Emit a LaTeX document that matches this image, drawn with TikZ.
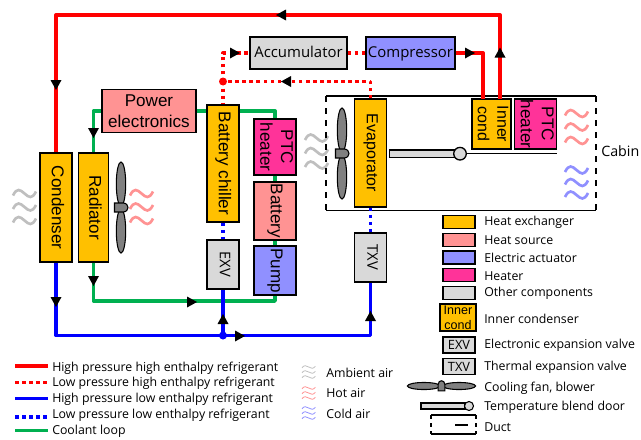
\documentclass[tikz,border=0pt]{standalone}
\usepackage{fontspec}
\setmainfont{Liberation Sans}
\newfontfamily\notefont{Open Sans}
\usepackage{graphicx}
\usepackage{color}

\definecolor{hxorange}{HTML}{FFC000}
\definecolor{sourcepink}{HTML}{FF9393}
\definecolor{actuatorblue}{HTML}{9090FF}
\definecolor{heatermagenta}{HTML}{FF3399}
\definecolor{othergray}{HTML}{D9D9D9}
\definecolor{hpred}{HTML}{FF0000}
\definecolor{lpblue}{HTML}{0000FF}
\definecolor{coolantgreen}{HTML}{00B050}

\tikzset{
    sized/.style 2 args={minimum width=#1*0.75pt, minimum height=#2*0.75pt},
    part/.style={draw=black, line width=1.1pt, inner sep=0pt, align=center, font=\fontsize{12.8}{15.6}\selectfont},
    exchanger/.style={part, fill=hxorange},
    source/.style={part, fill=sourcepink},
    actuator/.style={part, fill=actuatorblue},
    heater/.style={part, fill=heatermagenta},
    other/.style={part, fill=othergray},
    swatch/.style={draw=black, line width=0.9pt, inner sep=0pt, font=\notefont\fontsize{9.6}{11}\selectfont},
    note/.style={anchor=west, inner sep=0pt, font=\notefont\fontsize{9.25}{11}\selectfont},
    hphigh/.style={draw=hpred, line width=2.5pt, line join=round},
    lphigh/.style={hphigh, dash pattern=on 2.7pt off 2.6pt},
    hplow/.style={draw=lpblue, line width=2.5pt, line join=round},
    lplow/.style={hplow, dash pattern=on 2.7pt off 2.6pt},
    coolant/.style={draw=coolantgreen, line width=2.5pt, line join=round},
    ductwall/.style={draw=black, line width=1.1pt},
    ambientair/.style={draw=black!25, line width=2pt},
    hotair/.style={draw=sourcepink, line width=2pt},
    coldair/.style={draw=actuatorblue, line width=2pt},
    smallwave/.style={xscale=0.58, yscale=0.37, line width=0.6pt},
}

\newcommand{\vtext}[1]{\rotatebox{-90}{\begin{tabular}{@{}c@{}}#1\end{tabular}}}
\newcommand{\flowtip}[3]{\fill[black, shift={(#1,#2)}, rotate=#3] (5,0) -- (-5,-5.5) -- (-5,5.5) -- cycle;}
\newcommand{\airwaves}[4]{
    \begin{scope}[shift={(#1,#2)}, #3]
        \draw (0,2) .. controls (4,-6) and (7,-4) .. (11.5,0) .. controls (16,4) and (19,6) .. (23,-2);
        \draw (0,#4+2) .. controls (4,#4-6) and (7,#4-4) .. (11.5,#4) .. controls (16,#4+4) and (19,#4+6) .. (23,#4-2);
        \draw (0,2*#4+2) .. controls (4,2*#4-6) and (7,2*#4-4) .. (11.5,2*#4) .. controls (16,2*#4+4) and (19,2*#4+6) .. (23,2*#4-2);
    \end{scope}
}
\newcommand{\fan}[4]{
    \begin{scope}[shift={(#1,#2)}, rotate=#3, scale=#4]
        \draw[fill=black!50, line width=0.8pt] (0,-23.5) ellipse (4.7 and 22);
        \draw[fill=black!50, line width=0.8pt] (0,23.5) ellipse (4.7 and 22);
        \draw[fill=black!50, line width=0.8pt] (-6.5,-4.5) -- (2,-4.5) .. controls (5.5,-4.5) and (7,-2) .. (7,0) .. controls (7,2) and (5.5,4.5) .. (2,4.5) -- (-6.5,4.5) -- cycle;
    \end{scope}
}

\begin{document}
\begin{tikzpicture}[x=0.75pt, y=-0.75pt]
    \useasboundingbox (0,0) rectangle (641,439);

    % air
    \airwaves{13}{193.5}{ambientair}{13.5}
    \airwaves{130}{193.5}{hotair}{13.5}
    \airwaves{305}{138}{ambientair}{13.5}
    \airwaves{565}{113.5}{hotair}{13.5}
    \airwaves{565}{170}{coldair}{12.5}

    % duct
    \draw[ductwall] (326,96) -- (596,96);
    \draw[ductwall] (326,210.5) -- (596,210.5);
    \draw[ductwall, dashed, dash pattern=on 4.5pt off 4.5pt] (326,96) -- (326,210.5);
    \draw[ductwall, dashed, dash pattern=on 4.5pt off 4.5pt] (596,96) -- (596,210.5);

    % door and fans
    \draw[line width=1.1pt] (460,153.7) -- (557,153.7);
    \draw[fill=othergray, line width=1pt] (389.5,150) rectangle (456,157.5);
    \draw[fill=othergray, line width=1pt] (460,153.7) circle (6.3);
    \fan{121}{207.5}{0}{1}
    \fan{342}{153.5}{0}{1}

    % components
    \node[exchanger, sized={32}{109}] (condenser) at (56,207.5) {\vtext{Condenser}};
    \node[exchanger, sized={30}{109}] (radiator) at (93.5,207.5) {\vtext{Radiator}};
    \node[source, sized={94}{43}] (power) at (149,111) {Power\\electronics};
    \node[exchanger, sized={32}{117}] (chiller) at (223,163.5) {\vtext{Battery chiller}};
    \node[heater, sized={42}{56}] (ptcleft) at (275,147) {\vtext{PTC\\heater}};
    \node[source, sized={42}{58}] (battery) at (275,211) {\vtext{Battery}};
    \node[actuator, sized={42}{49}] (pump) at (275,270.5) {\vtext{Pump}};
    \node[other, sized={32}{49}, font=\notefont\fontsize{11}{12}\selectfont] (exv) at (223,264.5) {\vtext{EXV}};
    \node[other, sized={97}{32}, font=\notefont\fontsize{11.2}{13}\selectfont, text height=8.5pt, text depth=2.4pt] (accumulator) at (298.5,53) {Accumulator};
    \node[actuator, sized={89}{32}, font=\notefont\fontsize{11.2}{13}\selectfont, text height=8.5pt, text depth=2.4pt] (compressor) at (410.5,53) {Compressor};
    \node[exchanger, sized={32}{108}, font=\fontsize{12}{14}\selectfont] (evaporator) at (370.5,153) {\vtext{Evaporator}};
    \node[other, sized={32}{49}, font=\notefont\fontsize{11}{12}\selectfont] (txv) at (370.5,257.5) {\vtext{TXV}};
    \node[exchanger, sized={39}{50}, font=\fontsize{12}{14.5}\selectfont] (innercond) at (491.5,124) {\vtext{Inner\\cond}};
    \node[heater, sized={39}{50}] (ptcright) at (535.5,124) {\vtext{PTC\\heater}};

    % junctions and pipe ends
    \node[circle, fill=hpred, inner sep=0pt, minimum size=6pt] (hotjoint) at (223,81.5) {};
    \node[circle, fill=lpblue, inner sep=0pt, minimum size=6pt] (coldjoint) at (223,335.5) {};
    \coordinate (leftop) at (56,15);
    \coordinate (righttop) at (500,15);
    \coordinate (condout) at (500,99);
    \coordinate (condin) at (483,99);
    \coordinate (coolantcorner) at (93.5,301);

    % coolant loop
    \draw[coolant] (radiator.north) |- (power.west);
    \draw[coolant] (power.east) -- (chiller.west |- power.east);
    \draw[coolant] (chiller.east |- power.east) -| (ptcleft.north);
    \draw[coolant] (ptcleft.south) -- (battery.north);
    \draw[coolant] (battery.south) -- (pump.north);
    \draw[coolant] (radiator.south) -- (coolantcorner) -| (pump.south);

    % refrigerant
    \draw[hphigh] (condout) -- (righttop) -- (leftop) -- (condenser.north);
    \draw[hphigh] (compressor.east) -| (condin);
    \draw[lphigh] (evaporator.north) |- (hotjoint.center);
    \draw[lphigh] (hotjoint.center) -- (chiller.north);
    \draw[lphigh] (hotjoint.center) |- (accumulator.west);
    \draw[lphigh] (accumulator.east) -- (compressor.west);
    \draw[hplow] (condenser.south) |- (coldjoint.center);
    \draw[hplow] (coldjoint.center) -| (txv.south);
    \draw[hplow] (coldjoint.center) -- (exv.south);
    \draw[lplow] (chiller.south) -- (exv.north);
    \draw[lplow] (evaporator.south) -- (txv.north);

    % flow direction
    \flowtip{281}{15}{180}
    \flowtip{56}{85}{270}
    \flowtip{93.5}{133}{270}
    \flowtip{93.5}{281}{270}
    \flowtip{192}{302}{0}
    \flowtip{56}{302}{270}
    \flowtip{223}{319}{90}
    \flowtip{240}{336}{0}
    \flowtip{370.5}{316}{90}
    \flowtip{470}{53}{0}
    \flowtip{500}{52.5}{90}
    \flowtip{286}{81.5}{180}
    \flowtip{235}{53}{0}

    % line legend
    \draw[hphigh] (15,366) -- (47.5,366);
    \draw[lphigh] (15,382.5) -- (47.5,382.5);
    \draw[hplow] (15,398.5) -- (47.5,398.5);
    \draw[lplow] (15,417) -- (47.5,417);
    \draw[coolant] (15,430.5) -- (47.5,430.5);
    \node[note] (lhh) at (52,368) {High pressure high enthalpy refrigerant};
    \node[note] (lph) at (52,383.5) {Low pressure high enthalpy refrigerant};
    \node[note] (hpl) at (52,399) {High pressure low enthalpy refrigerant};
    \node[note] (lpl) at (52,415) {Low pressure low enthalpy refrigerant};
    \node[note] (loop) at (52,431.5) {Coolant loop};

    % air legend
    \airwaves{302}{367}{ambientair, smallwave}{13.5}
    \airwaves{302}{388}{hotair, smallwave}{13.5}
    \airwaves{302}{408}{coldair, smallwave}{13.5}
    \node[note] (ambient) at (326,373) {Ambient air};
    \node[note] (hot) at (326,393.5) {Hot air};
    \node[note] (cold) at (326,413.5) {Cold air};

    % component legend
    \node[swatch, fill=hxorange, sized={32}{13}] (keyhx) at (459,222) {};
    \node[swatch, fill=sourcepink, sized={32}{13}] (keysource) at (459,240) {};
    \node[swatch, fill=actuatorblue, sized={32}{13}] (keyactuator) at (459,257.5) {};
    \node[swatch, fill=heatermagenta, sized={32}{13}] (keyheater) at (459,275) {};
    \node[swatch, fill=othergray, sized={32}{13}] (keyother) at (459,293) {};
    \node[swatch, fill=hxorange, sized={36}{27}, align=center, font=\fontsize{9.4}{11.5}\selectfont] (keyinner) at (458,317.5) {Inner\\cond};
    \node[swatch, fill=othergray, sized={32}{16}] (keyexv) at (459,345) {EXV};
    \node[swatch, fill=othergray, sized={32}{16}] (keytxv) at (459,366.5) {TXV};
    \fan{441.5}{386}{90}{0.75}
    \draw[fill=othergray, line width=0.8pt] (421,403) rectangle (465,409);
    \draw[fill=othergray, line width=0.8pt] (469,406) circle (4.5);
    \draw[ductwall, line width=0.8pt] (431,415) -- (476,415);
    \draw[ductwall, line width=0.8pt] (431,434) -- (476,434);
    \draw[ductwall, line width=0.8pt, dashed, dash pattern=on 3pt off 3pt] (431,415) -- (431,434);
    \draw[ductwall, line width=0.8pt, dashed, dash pattern=on 3pt off 3pt] (476,415) -- (476,434);
    \draw[line width=0.8pt] (455,425) -- (468,425);
    \node[note] (lblhx) at (484,222) {Heat exchanger};
    \node[note] (lblsource) at (484,240) {Heat source};
    \node[note] (lblactuator) at (484,258) {Electric actuator};
    \node[note] (lblheater) at (484,276) {Heater};
    \node[note] (lblother) at (484,293.5) {Other components};
    \node[note] (lblinner) at (484,318.5) {Inner condenser};
    \node[note] (lblexv) at (484,345.5) {Electronic expansion valve};
    \node[note] (lbltxv) at (484,367) {Thermal expansion valve};
    \node[note] (lblfan) at (484,388) {Cooling fan, blower};
    \node[note] (lbldoor) at (484,407) {Temperature blend door};
    \node[note] (lblduct) at (484,427) {Duct};
    \node[note, font=\notefont\fontsize{10.7}{13}\selectfont] (cabin) at (601,151) {Cabin};
\end{tikzpicture}
\end{document}
